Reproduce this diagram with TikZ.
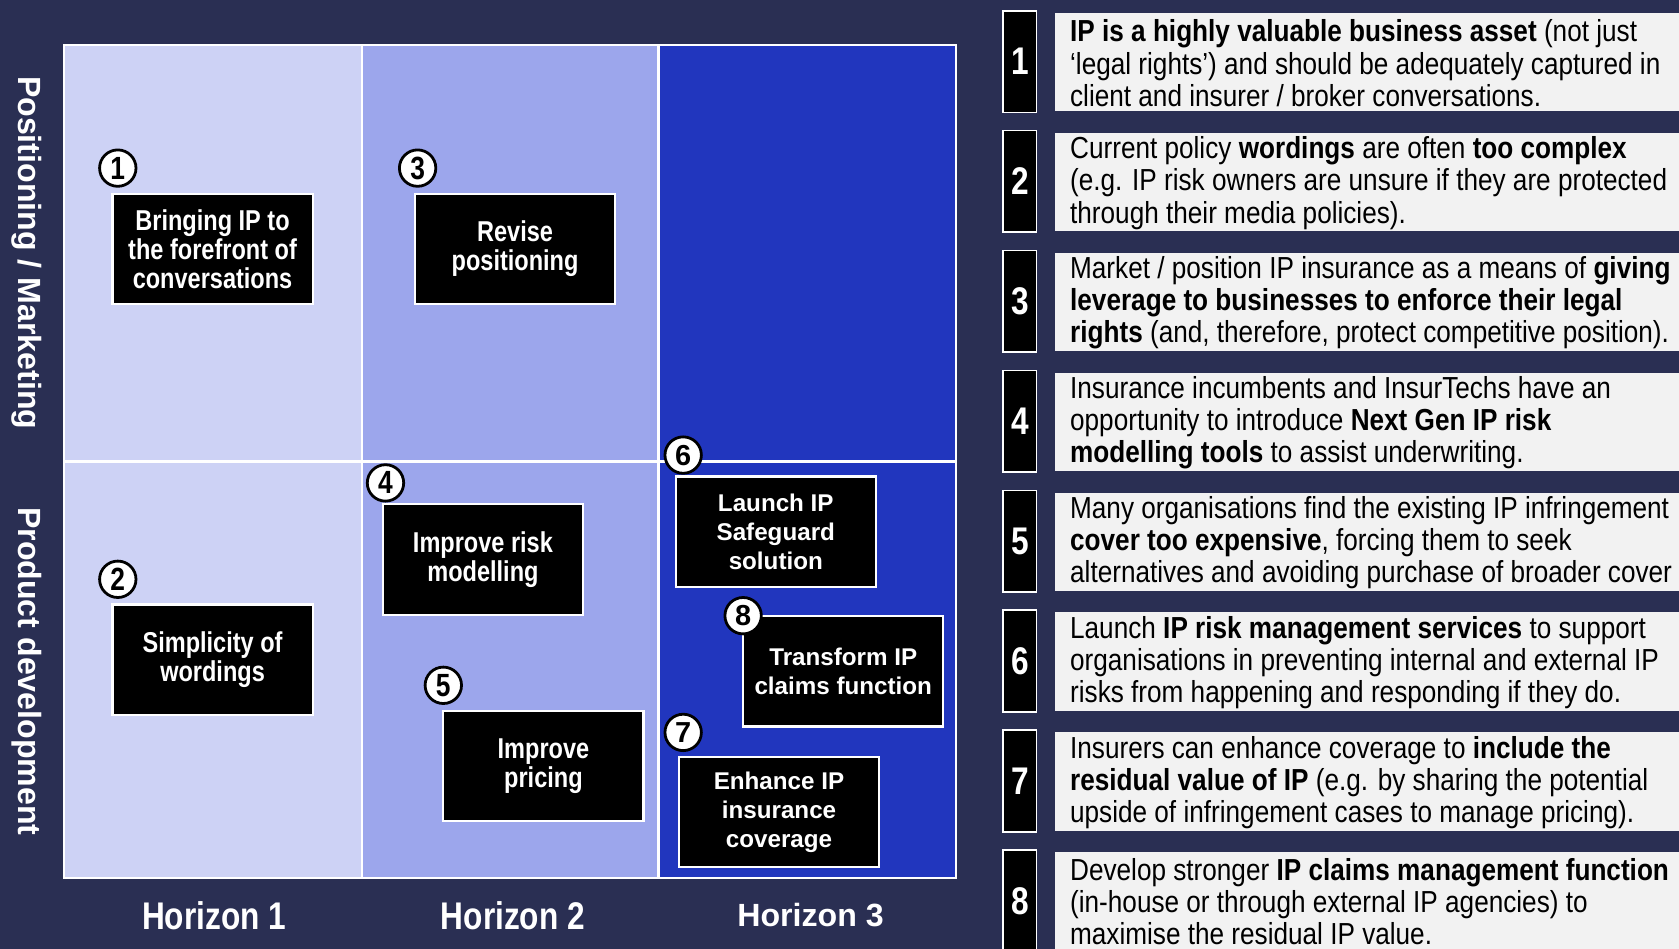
\documentclass[tikz,border=0pt]{standalone}
\usepackage{fontspec}
\setmainfont{Liberation Sans}
\newfontfamily\nar[FakeStretch=0.82]{Liberation Sans}
\newfontfamily\narr[FakeStretch=0.86]{Liberation Sans}
\definecolor{navy}{RGB}{42,47,83}
\definecolor{hone}{RGB}{205,210,245}
\definecolor{htwo}{RGB}{156,166,236}
\definecolor{hthree}{RGB}{33,54,190}
\definecolor{pale}{RGB}{242,242,242}
\tikzset{
  cell/.style={draw=white,line width=1pt},
  act/.style={draw=white,line width=1pt,fill=black,text=white,minimum width=93.5pt,minimum height=51.5pt,align=center,inner sep=2pt,font=\bfseries\fontsize{11.3}{13.5}\selectfont},
  actn/.style={act,font=\nar\bfseries\fontsize{13.4}{13.5}\selectfont},
  num/.style={circle,draw=black,line width=1.3pt,fill=white,minimum size=17pt,inner sep=0pt,font=\nar\bfseries\fontsize{15}{15}\selectfont},
  numw/.style={num,font=\bfseries\fontsize{13.5}{13.5}\selectfont},
  rnum/.style={draw=white,line width=0.8pt,fill=black,text=white,minimum width=15.5pt,minimum height=47.5pt,inner sep=0pt,font=\nar\bfseries\fontsize{18}{18}\selectfont},
  rbox/.style={fill=pale},
  rtext/.style={anchor=west,align=left,inner sep=0pt,font=\narr\fontsize{14.2}{15}\selectfont},
  axis/.style={text=white,font=\bfseries\fontsize{15}{15}\selectfont},
  hor/.style={text=white,font=\bfseries\fontsize{15}{15}\selectfont},
  horn/.style={text=white,font=\nar\bfseries\fontsize{18}{18}\selectfont}
}
\begin{document}
\begin{tikzpicture}[x=0.5pt,y=-0.5pt]
\fill[navy] (0,0) rectangle (1568,886);
\useasboundingbox (0,0) rectangle (1568,886);
\clip (0,0) rectangle (1568,886);
% grid cells
\filldraw[cell,fill=hone] (60,42) rectangle (338,431);
\filldraw[cell,fill=htwo] (338,42) rectangle (615,431);
\filldraw[cell,fill=hthree] (615,42) rectangle (893,431);
\filldraw[cell,fill=hone] (60,431) rectangle (338,820);
\filldraw[cell,fill=htwo] (338,431) rectangle (615,820);
\filldraw[cell,fill=hthree] (615,431) rectangle (893,820);
% axis labels
\node[axis,rotate=-90] (pm) at (25,236) {Positioning / Marketing};
\node[axis,rotate=-90] (pd) at (25,627) {Product development};
\node[horn] (h1) at (200,855) {Horizon 1};
\node[horn] (h2) at (479,855) {Horizon 2};
\node[hor] (h3) at (757,855) {Horizon 3};
% action boxes
\node[actn] (b1) at (198.5,232.5) {Bringing IP to\\the forefront of\\conversations};
\node[actn] (b3) at (481,232.5) {Revise\\positioning};
\node[actn] (b2) at (198.5,616) {Simplicity of\\wordings};
\node[actn] (b4) at (451,522.5) {Improve risk\\modelling};
\node[actn] (b5) at (507.5,715.5) {Improve\\pricing};
\node[act] (b6) at (724.5,496.5) {Launch IP\\Safeguard\\solution};
\node[act] (b8) at (787.5,627) {Transform IP\\claims function};
\node[act] (b7) at (727.5,758.5) {Enhance IP\\insurance\\coverage};
% number circles
\node[num] (c1) at (110,157) {1};
\node[num] (c3) at (390,157) {3};
\node[num] (c2) at (110,541) {2};
\node[num] (c4) at (360,451) {4};
\node[num] (c5) at (414,640) {5};
\node[numw] (c6) at (638,425) {6};
\node[numw] (c8) at (694,575) {8};
\node[numw] (c7) at (638,684) {7};
% right panel
\foreach \i/\t in {1/10,2/122,3/234,4/346,5/458,6/570,7/682,8/794}{
  \fill[rbox] (985,\t+2) rectangle (1570,\t+94);
  \node[rnum] (n\i) at (952.5,\t+47.5) {\i};
}
\node[rtext] (t1) at (999,59) {\textbf{IP is a highly valuable business asset} (not just\\‘legal rights’) and should be adequately captured in\\client and insurer / broker conversations.};
\node[rtext] (t2) at (999,171) {Current policy \textbf{wordings} are often \textbf{too complex}\\(e.g. IP risk owners are unsure if they are protected\\through their media policies).};
\node[rtext] (t3) at (999,283) {Market / position IP insurance as a means of \textbf{giving}\\\textbf{leverage to businesses to enforce their legal}\\\textbf{rights} (and, therefore, protect competitive position).};
\node[rtext] (t4) at (999,395) {Insurance incumbents and InsurTechs have an\\opportunity to introduce \textbf{Next Gen IP risk}\\\textbf{modelling tools} to assist underwriting.};
\node[rtext] (t5) at (999,507) {Many organisations find the existing IP infringement\\\textbf{cover too expensive}, forcing them to seek\\alternatives and avoiding purchase of broader cover};
\node[rtext] (t6) at (999,619) {Launch \textbf{IP risk management services} to support\\organisations in preventing internal and external IP\\risks from happening and responding if they do.};
\node[rtext] (t7) at (999,731) {Insurers can enhance coverage to \textbf{include the}\\\textbf{residual value of IP} (e.g. by sharing the potential\\upside of infringement cases to manage pricing).};
\node[rtext] (t8) at (999,842) {Develop stronger \textbf{IP claims management function}\\(in-house or through external IP agencies) to\\maximise the residual IP value.};
\end{tikzpicture}
\end{document}
